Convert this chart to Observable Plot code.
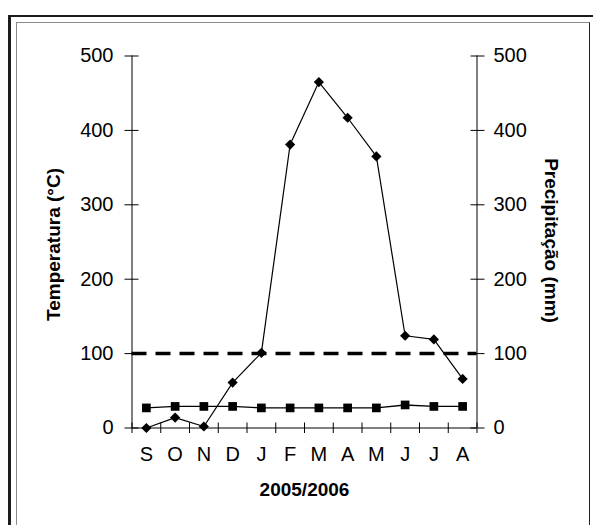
<!DOCTYPE html>
<html>
<head>
<meta charset="utf-8">
<script src="https://cdn.jsdelivr.net/npm/d3@7"></script>
<script src="https://cdn.jsdelivr.net/npm/@observablehq/plot@0.6"></script>
<style>
  html, body { margin: 0; padding: 0; background: #fff; }
  #wrap { position: relative; width: 593px; height: 525px; overflow: hidden; background: #fff; }
  .outer { position: absolute; left: 7.5px; top: 14.5px; width: 700px; height: 700px;
           border-left: 3px solid #1c1c1c; border-top: 2.5px solid #1c1c1c; }
  .inner { position: absolute; left: 16px; top: 22px; width: 574px; height: 503.5px; box-sizing: border-box;
           border: 1.5px solid #8c8c8c; border-right-color: #222; }
  #chart { position: absolute; left: 0; top: 0; }
</style>
</head>
<body>
<div id="wrap">
  <div class="outer"></div>
  <div class="inner"></div>
  <div id="chart"></div>
</div>
<script>
const months = ["S","O","N","D","J","F","M","A","M","J","J","A"];
const precipitacao = [0, 14, 2, 61, 101, 381, 465, 417, 365, 124, 119, 66];
const temperatura = [27, 29, 29, 29, 27, 27, 27, 27, 27, 31, 29, 29];
const yTicks = [0, 100, 200, 300, 400, 500];
const limiar = [100];
const titleLeft = "Temperatura (°C)";
const titleRight = "Precipitação (mm)";
const titleBottom = "2005/2006";

const rows = months.map((m, i) => ({i, m, p: precipitacao[i], t: temperatura[i]}));
const centers = months.map((m, i) => i);
const bounds = months.map((m, i) => i - 0.5).concat([months.length - 0.5]);
const font = "'Liberation Sans', Arial, Helvetica, sans-serif";

const chart = Plot.plot({
  width: 593,
  height: 525,
  marginTop: 55.5,
  marginBottom: 97.5,
  marginLeft: 131.5,
  marginRight: 116.5,
  style: {fontFamily: font, fontSize: "20px", color: "#000", background: "transparent"},
  x: {domain: [-0.5, months.length - 0.5]},
  y: {domain: [0, 500]},
  marks: [
    Plot.axisX({ticks: bounds, tickSize: 10.5, dy: -5, tickFormat: () => "", label: null, stroke: "#000"}),
    Plot.axisX({ticks: centers, tickSize: 0, tickPadding: 19, tickFormat: i => months[i], label: null, fontSize: 20}),
    Plot.axisY({anchor: "left", ticks: yTicks, tickSize: 14, dx: 7, tickFormat: () => "", label: null, stroke: "#000"}),
    Plot.axisY({anchor: "left", ticks: yTicks, tickSize: 0, tickPadding: 18.5, label: null, fontSize: 20}),
    Plot.axisY({anchor: "right", ticks: yTicks, tickSize: 14, dx: -7, tickFormat: () => "", label: null, stroke: "#000"}),
    Plot.axisY({anchor: "right", ticks: yTicks, tickSize: 0, tickPadding: 16.5, label: null, fontSize: 20}),
    Plot.ruleX([-0.5, months.length - 0.5], {stroke: "#000", strokeWidth: 1}),
    Plot.ruleY([0], {stroke: "#000", strokeWidth: 1}),
    Plot.ruleY(limiar, {stroke: "#000", strokeWidth: 3.5, strokeDasharray: "15,9"}),
    Plot.line(rows, {x: "i", y: "t", stroke: "#000", strokeWidth: 1.4}),
    Plot.dot(rows, {x: "i", y: "t", symbol: "square", r: 4.9, fill: "#000"}),
    Plot.line(rows, {x: "i", y: "p", stroke: "#000", strokeWidth: 1.2}),
    Plot.dot(rows, {x: "i", y: "p", symbol: "diamond2", r: 4.6, fill: "#000"}),
    Plot.text([titleLeft], {frameAnchor: "left", textAnchor: "middle", rotate: -90, dx: -78.5, dy: 2.5, fontSize: 19, fontWeight: "bold", fill: "#000"}),
    Plot.text([titleRight], {frameAnchor: "right", textAnchor: "middle", rotate: 90, dx: 74.5, dy: -1.5, fontSize: 19, fontWeight: "bold", fill: "#000"}),
    Plot.text([titleBottom], {frameAnchor: "bottom", lineAnchor: "top", dy: 54.5, fontSize: 19, fontWeight: "bold", fill: "#000"})
  ]
});
document.getElementById("chart").appendChild(chart);
</script>
</body>
</html>
